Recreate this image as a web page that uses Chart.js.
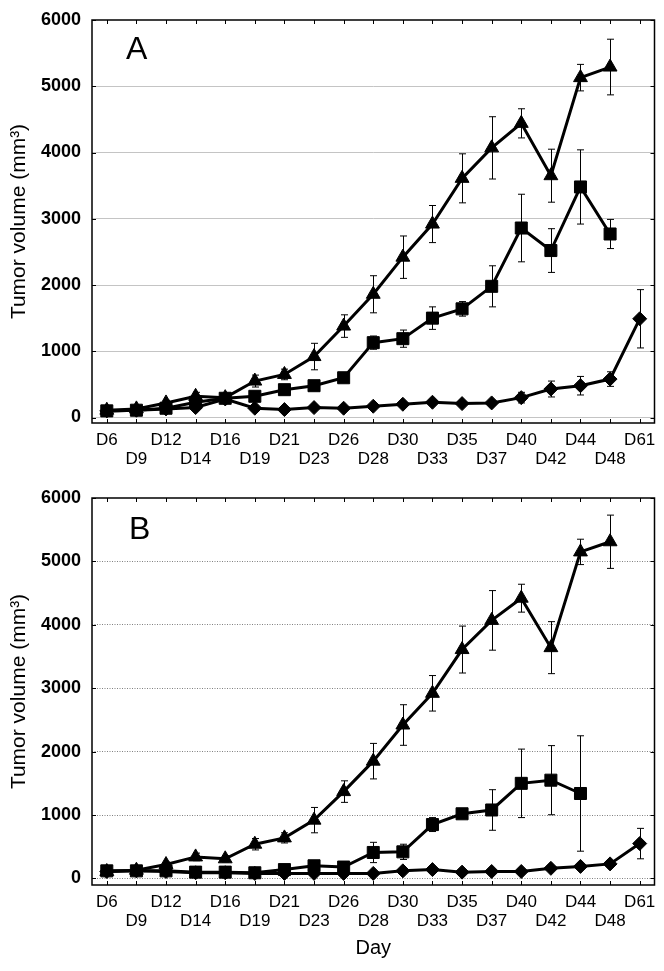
<!DOCTYPE html>
<html>
<head>
<meta charset="utf-8">
<script src="https://cdn.jsdelivr.net/npm/chart.js@4/dist/chart.umd.min.js"></script>
<style>
  html, body { margin: 0; padding: 0; background: #fff; }
  #wrap { position: relative; width: 664px; height: 971px; overflow: hidden; }
  #cA { position: absolute; left: 0; top: 0; }
  #cB { position: absolute; left: 0; top: 478px; }
</style>
</head>
<body>
<div id="wrap">
  <canvas id="cA" width="664" height="478"></canvas>
  <canvas id="cB" width="664" height="493"></canvas>
</div>
<script>
// ---------- data ----------
const days = ['D6','D9','D12','D14','D16','D19','D21','D23','D26','D28','D30','D33','D35','D37','D40','D42','D44','D48','D61'];
const yTickValues = [0, 1000, 2000, 3000, 4000, 5000, 6000];

// Panel A
const triA    = [110,130,220,320,300,550,650,920,1380,1860,2420,2920,3610,4070,4440,3650,5130,5290,null];
const triAErr = [30,30,40,60,50,90,80,200,170,280,320,280,370,470,220,400,200,420,null];
const sqA     = [100,110,140,230,290,320,420,480,600,1130,1190,1500,1640,1980,2860,2520,3480,2770,null];
const sqAErr  = [30,20,30,40,40,60,40,40,40,100,130,170,110,310,510,330,560,220,null];
const diaA    = [100,110,130,150,280,140,120,150,140,170,200,230,210,220,300,430,480,580,1490];
const diaAErr = [20,20,20,30,40,20,20,20,20,20,30,30,30,30,80,120,140,110,440];

// Panel B
const triB    = [110,130,220,340,310,540,640,920,1370,1850,2420,2920,3610,4070,4420,3640,5150,5310,null];
const triBErr = [30,30,40,60,50,90,80,200,170,280,320,280,370,470,220,410,200,420,null];
const sqB     = [120,120,120,100,100,90,140,200,180,410,420,850,1020,1080,1500,1550,1340,null,null];
const sqBErr  = [30,30,30,20,20,20,30,40,40,160,120,110,50,320,540,545,910,null,null];
const diaB    = [110,120,110,90,90,80,80,80,80,80,120,140,100,110,110,160,190,230,550];
const diaBErr = [20,20,20,20,20,20,20,20,20,20,20,20,20,20,20,30,30,40,240];

const FONT = '"Liberation Sans", Arial, sans-serif';

// ---------- plugins ----------
const errorBars = {
  id: 'errorBars',
  afterDatasetsDraw(chart) {
    const ctx = chart.ctx, y = chart.scales.y;
    ctx.save();
    ctx.strokeStyle = '#000';
    ctx.lineWidth = 1;
    chart.data.datasets.forEach((ds, di) => {
      const meta = chart.getDatasetMeta(di);
      const errs = ds.errors || [];
      meta.data.forEach((pt, i) => {
        const v = ds.data[i], e = errs[i];
        if (v == null || e == null) return;
        const x = Math.round(pt.x) + 0.5;
        const yt = y.getPixelForValue(v + e), yb = y.getPixelForValue(v - e);
        ctx.beginPath();
        ctx.moveTo(x, yt); ctx.lineTo(x, yb);
        ctx.moveTo(x - 3.5, yt); ctx.lineTo(x + 3.5, yt);
        ctx.moveTo(x - 3.5, yb); ctx.lineTo(x + 3.5, yb);
        ctx.stroke();
      });
    });
    ctx.restore();
  }
};

const frame = {
  id: 'frame',
  afterDraw(chart, args, opts) {
    const ctx = chart.ctx;
    const {left, right, top, bottom} = chart.chartArea;
    const x = chart.scales.x, y = chart.scales.y;
    ctx.save();
    ctx.strokeStyle = '#000';
    ctx.lineWidth = 1.5;
    ctx.strokeRect(left, top, right - left, bottom - top);
    ctx.lineWidth = 1;
    ctx.beginPath();
    for (let i = 0; i < x.ticks.length; i++) {
      const px = Math.round(x.getPixelForTick(i)) + 0.5;
      ctx.moveTo(px, top); ctx.lineTo(px, top + 4);
      ctx.moveTo(px, bottom); ctx.lineTo(px, bottom - 4);
    }
    for (const t of y.ticks) {
      const py = Math.round(y.getPixelForValue(t.value)) + 0.5;
      ctx.moveTo(left, py); ctx.lineTo(left + 4, py);
      ctx.moveTo(right, py); ctx.lineTo(right - 4, py);
    }
    ctx.stroke();
    ctx.fillStyle = '#000';
    ctx.font = '32px ' + FONT;
    ctx.textBaseline = 'alphabetic';
    ctx.textAlign = 'left';
    ctx.fillText(opts.letter, opts.lx, opts.ly);
    ctx.restore();
  }
};

function makeChart(canvasId, cfg) {
  const ds = (data, errs, style, radius) => ({
    data, errors: errs,
    borderColor: '#000', borderWidth: 3,
    pointStyle: style, pointRadius: radius, pointHoverRadius: radius,
    pointBackgroundColor: '#000', pointBorderColor: '#000', pointBorderWidth: 1,
    spanGaps: false, tension: 0, fill: false
  });
  return new Chart(document.getElementById(canvasId), {
    type: 'line',
    data: {
      labels: days,
      datasets: [
        ds(cfg.dia, cfg.diaErr, 'rectRot', 7),
        ds(cfg.sq, cfg.sqErr, 'rect', 8.5),
        ds(cfg.tri, cfg.triErr, 'triangle', 8)
      ]
    },
    options: {
      responsive: false,
      animation: false,
      devicePixelRatio: 1,
      layout: { padding: { top: 12, right: 9, left: 0, bottom: 0 } },
      plugins: {
        legend: { display: false },
        tooltip: { enabled: false },
        frame: { letter: cfg.letter, lx: cfg.lx, ly: cfg.ly }
      },
      scales: {
        x: {
          type: 'category',
          offset: true,
          grid: { display: false, drawTicks: false },
          border: { display: false },
          ticks: {
            autoSkip: false, maxRotation: 0, minRotation: 0, padding: 8,
            color: '#000',
            font: { family: FONT, size: 17, lineHeight: 1.12 },
            callback: function(v, i) { const l = days[i]; return i % 2 ? ['', l] : l; }
          },
          title: cfg.xTitle ? {
            display: true, text: cfg.xTitle, color: '#000',
            font: { family: FONT, size: 20 }, padding: { top: 0, bottom: 11 }
          } : { display: false },
          afterFit(s) { s.height = cfg.xHeight; }
        },
        y: {
          min: cfg.ymin, max: 6000,
          afterBuildTicks(s) { s.ticks = yTickValues.map(v => ({ value: v })); },
          grid: {
            drawTicks: false,
            color: (c) => (c.tick && c.tick.value === 6000) ? 'rgba(0,0,0,0)' : cfg.gridColor,
            lineWidth: 1
          },
          border: { display: false, dash: cfg.dash },
          ticks: {
            padding: 11, color: '#000',
            font: { family: FONT, size: 18, weight: 'bold', lineHeight: 1 },
            callback: (v) => String(v)
          },
          title: {
            display: true, text: 'Tumor volume (mm³)', color: '#000',
            font: { family: FONT, size: 21 }, padding: { top: 7, bottom: 0 }
          },
          afterFit(s) { s.width = 92; }
        }
      }
    },
    plugins: [errorBars, frame]
  });
}

makeChart('cA', {
  tri: triA, triErr: triAErr, sq: sqA, sqErr: sqAErr, dia: diaA, diaErr: diaAErr,
  ymin: -83, gridColor: '#c4c4c4', dash: [], xHeight: 55, xTitle: null,
  letter: 'A', lx: 126, ly: 59
});
makeChart('cB', {
  tri: triB, triErr: triBErr, sq: sqB, sqErr: sqBErr, dia: diaB, diaErr: diaBErr,
  ymin: -103, gridColor: '#808080', dash: [1, 1.5], xHeight: 86, xTitle: 'Day',
  letter: 'B', lx: 129, ly: 61
});
</script>
</body>
</html>
